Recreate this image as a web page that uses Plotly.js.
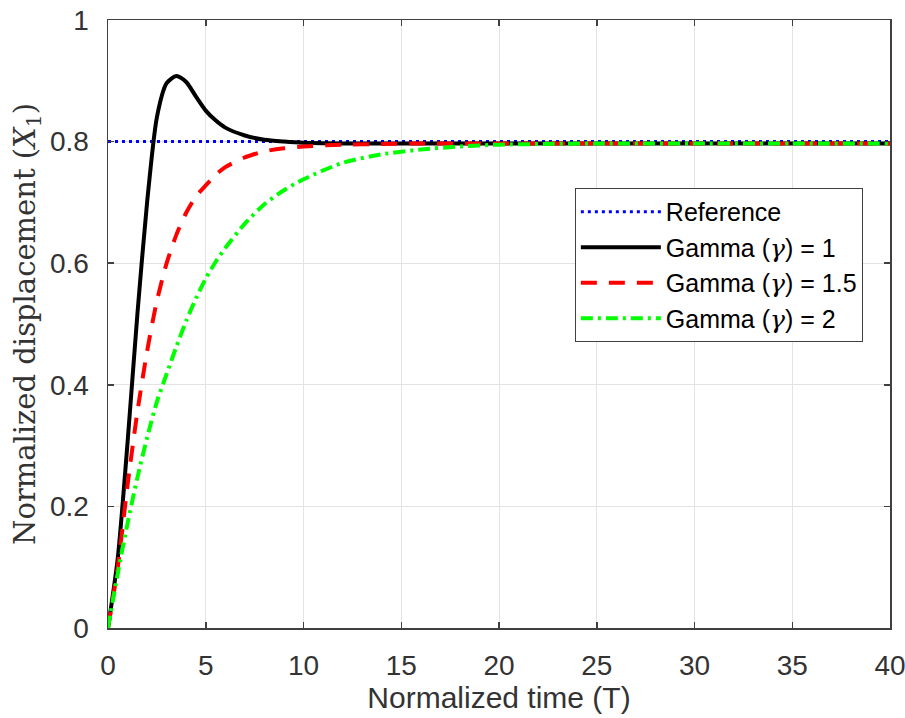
<!DOCTYPE html>
<html>
<head>
<meta charset="utf-8">
<script src="https://cdn.plot.ly/plotly-3.0.1.min.js"></script>
<style>body{margin:0;padding:0;background:#fff}</style>
</head>
<body>
<div id="chart" style="width:905px;height:718px"></div>
<script>
// Normalized time samples
const timeT = [0,0.5,1,1.5,2,2.5,3,3.5,4,4.5,5,5.5,6,7,8,9,10,12,14,16,18,20,22,25,30,35,40];
// Reference level
const referenceX1 = [0.8,0.8,0.8,0.8,0.8,0.8,0.8,0.8,0.8,0.8,0.8,0.8,0.8,0.8,0.8,0.8,0.8,0.8,0.8,0.8,0.8,0.8,0.8,0.8,0.8,0.8,0.8];
// Gamma = 1
const gamma1X1 = [0,0.115,0.305,0.515,0.70,0.84,0.896,0.908,0.898,0.874,0.851,0.835,0.823,0.81,0.803,0.8,0.798,0.797,0.797,0.797,0.797,0.797,0.797,0.797,0.797,0.797,0.797];
// Gamma = 1.5
const gamma15X1 = [0,0.10,0.235,0.355,0.455,0.538,0.60,0.647,0.683,0.71,0.728,0.745,0.758,0.774,0.784,0.789,0.792,0.795,0.796,0.797,0.797,0.797,0.797,0.797,0.797,0.797,0.797];
// Gamma = 2
const gamma2X1 = [0,0.09,0.172,0.247,0.313,0.372,0.418,0.463,0.505,0.542,0.575,0.602,0.625,0.665,0.697,0.72,0.738,0.765,0.779,0.787,0.792,0.795,0.796,0.797,0.797,0.797,0.797];

const seriesNames = [
  'Reference',
  'Gamma (<span style="font-family:\'DejaVu Serif\'"><i>γ</i></span>) = 1',
  'Gamma (<span style="font-family:\'DejaVu Serif\'"><i>γ</i></span>) = 1.5',
  'Gamma (<span style="font-family:\'DejaVu Serif\'"><i>γ</i></span>) = 2'
];
const xTicks = [0,5,10,15,20,25,30,35,40];
const yTicks = [0,0.2,0.4,0.6,0.8,1];

const traces = [
  {x: timeT, y: referenceX1, name: seriesNames[0], mode:'lines',
   line:{color:'#0000ff', width:3, dash:'3px,4px'}},
  {x: timeT, y: gamma1X1, name: seriesNames[1], mode:'lines',
   line:{color:'#000000', width:4, shape:'spline', smoothing:0.7}},
  {x: timeT, y: gamma15X1, name: seriesNames[2], mode:'lines',
   line:{color:'#ff0000', width:4, dash:'16px,12px', shape:'spline', smoothing:0.7}},
  {x: timeT, y: gamma2X1, name: seriesNames[3], mode:'lines',
   line:{color:'#00ff00', width:4, dash:'12px,5px,3px,5px', shape:'spline', smoothing:0.7}}
];

const axisCommon = {
  showline:true, mirror:'allticks', linecolor:'#404040', linewidth:1.5,
  ticks:'inside', ticklen:6, tickcolor:'#404040', tickwidth:1.5,
  showgrid:true, gridcolor:'#e3e3e3', gridwidth:1, zeroline:false,
  tickfont:{family:'Liberation Sans, Arial, sans-serif', size:28, color:'#333333'},
  ticklabelstandoff: 12, ticklabeloverflow:'allow'
};

const layout = {
  width:905, height:718,
  margin:{l:108, r:15, t:20, b:90},
  paper_bgcolor:'#ffffff', plot_bgcolor:'#ffffff',
  showlegend:true,
  xaxis: Object.assign({}, axisCommon, {
    range:[0,40], tickvals:xTicks, ticktext:xTicks.map(String),
    title:{text:'Normalized time (T)', font:{family:'Liberation Sans, Arial, sans-serif', size:30, color:'#333333'}, standoff:6}
  }),
  yaxis: Object.assign({}, axisCommon, {
    range:[0,1], tickvals:yTicks, ticktext:yTicks.map(String),
    title:{text:'Normalized displacement (<i>X</i><sub>1</sub>)', font:{family:'DejaVu Serif, serif', size:29, color:'#333333'}, standoff:6}
  }),
  legend:{
    x:0.597, y:0.7237, xanchor:'left', yanchor:'top',
    bgcolor:'#ffffff', bordercolor:'#404040', borderwidth:1,
    font:{family:'Liberation Sans, Arial, sans-serif', size:25, color:'#000000'},
    itemwidth:80
  }
};

Plotly.newPlot('chart', traces, layout, {staticPlot:true, displayModeBar:false});
</script>
</body>
</html>
